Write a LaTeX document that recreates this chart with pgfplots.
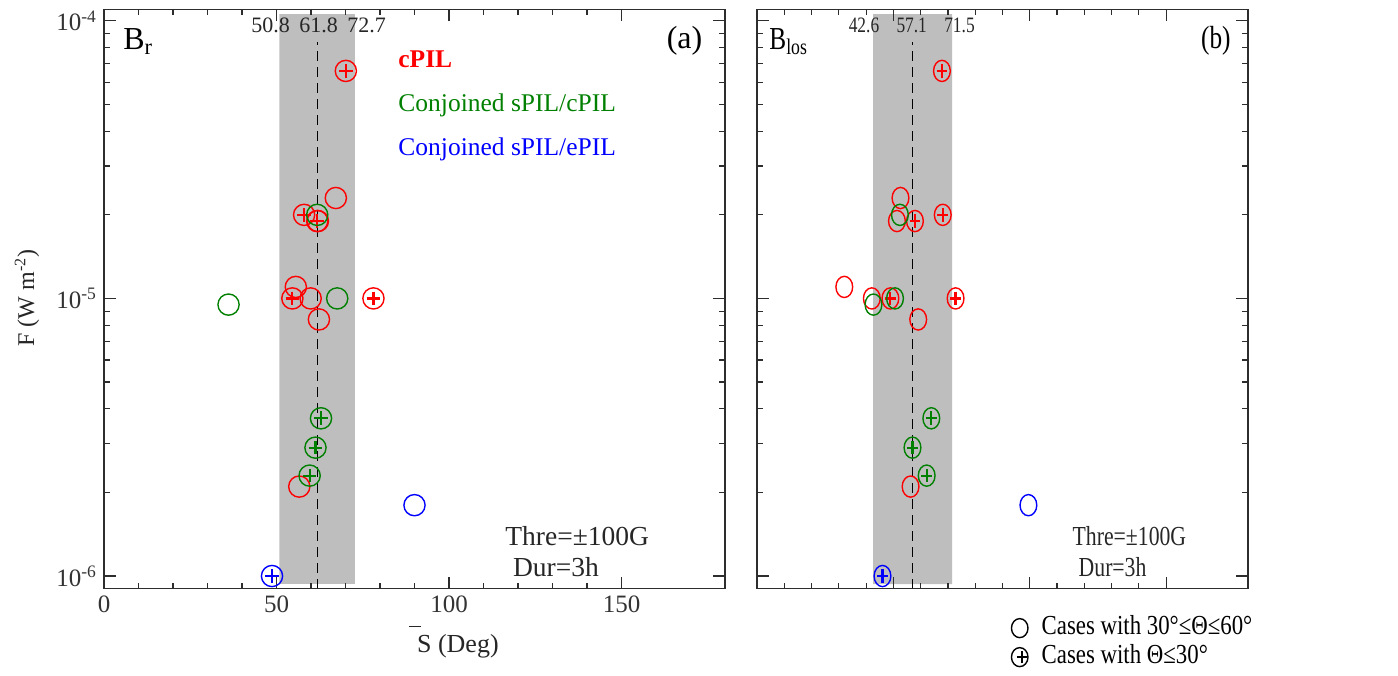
\documentclass[border=0pt]{standalone}
\usepackage{fontspec}
\setmainfont{Liberation Serif}
\usepackage{graphicx}
\usepackage{pgfplots}
\pgfplotsset{compat=1.18}

\definecolor{bandgray}{RGB}{190,190,190}
\definecolor{pgreen}{RGB}{0,128,0}
\definecolor{pred}{RGB}{255,0,0}
\definecolor{pblue}{RGB}{0,0,255}
\definecolor{axgray}{RGB}{45,45,45}

\newcommand{\fs}{\fontsize{12.5}{15}\selectfont}
\newcommand{\fsl}{\fontsize{12.75}{15}\selectfont}
\newcommand{\fst}{\fontsize{13.75}{16}\selectfont}
\newcommand{\fsx}{\fontsize{13}{16}\selectfont}
\newcommand{\fsy}{\fontsize{12}{14}\selectfont}
\newcommand{\fsb}{\fontsize{16}{19}\selectfont}
\newcommand{\fss}{\fontsize{11}{13}\selectfont}

\pgfplotsset{
  chartpanel/.style={
    scale only axis, height=289.7pt,
    xmin=0, xmax=180, ymin=9.0e-7, ymax=1.1e-4,
    xtick={0,50,100,150}, minor x tick num=4,
    ytick={1e-6,1e-5,1e-4},
    tick align=inside, major tick length=6pt, minor tick length=3pt,
    axis line style={axgray, line width=0.6pt},
    every tick/.append style={axgray, line width=0.6pt},
    ticklabel style={font=\fs, text=black!80},
    /pgf/number format/assume math mode=true,
    axis on top,
  },
  ring/.style={only marks, mark=o, mark size=5.3pt, line width=0.7pt},
  cross/.style={only marks, mark=+, mark size=3.4pt, line width=1.1pt, forget plot},
}

\begin{document}
\begin{tikzpicture}
\useasboundingbox (0pt,0pt) rectangle (699pt,-337.5pt);

% ---------------- left panel (a) ----------------
\begin{semilogyaxis}[chartpanel, at={(52pt,-294.35pt)}, anchor=south west, width=310.5pt,
  yticklabels={10\textsuperscript{-6},10\textsuperscript{-5},10\textsuperscript{-4}}]
\addplot[draw=none, fill=bandgray] coordinates {(50.8,9.36e-7) (72.7,9.36e-7) (72.7,1.057e-4) (50.8,1.057e-4) (50.8,9.36e-7)};
\addplot[black, line width=0.6pt, dash pattern=on 5pt off 3pt] coordinates {(61.8,9.0e-7) (61.8,8.4e-5)};
% cPIL: 30-60 deg (circles) and <=30 deg (circle with plus)
\addplot[ring, pred] coordinates {(67.2,2.3e-5) (62.0,1.9e-5) (55.6,1.1e-5) (59.9,1.0e-5) (62.3,8.4e-6) (56.6,2.1e-6)};
\addplot[ring, pred] coordinates {(70.1,6.6e-5) (58.0,2.0e-5) (61.8,1.9e-5) (54.6,1.0e-5) (78.1,1.0e-5)};
\addplot[cross, pred] coordinates {(70.1,6.6e-5) (58.0,2.0e-5) (61.8,1.9e-5) (54.6,1.0e-5) (78.1,1.0e-5)};
% Conjoined sPIL/cPIL
\addplot[ring, pgreen] coordinates {(61.8,2.0e-5) (67.6,1.0e-5) (36.1,9.5e-6)};
\addplot[ring, pgreen] coordinates {(62.9,3.7e-6) (61.3,2.9e-6) (59.6,2.3e-6)};
\addplot[cross, pgreen] coordinates {(62.9,3.7e-6) (61.3,2.9e-6) (59.6,2.3e-6)};
% Conjoined sPIL/ePIL
\addplot[ring, pblue] coordinates {(90.0,1.8e-6)};
\addplot[ring, pblue] coordinates {(48.7,1.0e-6)};
\addplot[cross, pblue] coordinates {(48.7,1.0e-6)};
\end{semilogyaxis}

% ---------------- right panel (b) ----------------
\begin{semilogyaxis}[chartpanel, at={(378.5pt,-294.35pt)}, anchor=south west, width=245.5pt,
  xticklabels={}, yticklabels={},
  legend style={at={(axis description cs:0.516,-0.044)}, anchor=north west,
    draw=none, fill=none, inner sep=0pt, row sep=1pt, font=\fst,
    /tikz/every odd column/.append style={column sep=5.5pt},
    nodes={inner sep=1pt, text height=9pt, text depth=2.5pt}},
  legend cell align=left]
\addplot[draw=none, fill=bandgray, forget plot] coordinates {(42.6,9.36e-7) (71.5,9.36e-7) (71.5,1.057e-4) (42.6,1.057e-4) (42.6,9.36e-7)};
\addplot[black, line width=0.6pt, dash pattern=on 5pt off 3pt, forget plot] coordinates {(57.1,9.0e-7) (57.1,8.4e-5)};
\addplot[ring, pred, mark options={xscale=0.79}, forget plot] coordinates {(52.6,2.3e-5) (51.3,1.9e-5) (32.0,1.1e-5) (42.1,1.0e-5) (59.1,8.4e-6) (56.3,2.1e-6)};
\addplot[ring, pred, mark options={xscale=0.79}, forget plot] coordinates {(67.8,6.6e-5) (57.9,1.9e-5) (68.1,2.0e-5) (48.9,1.0e-5) (72.8,1.0e-5)};
\addplot[cross, pred, mark options={xscale=0.79}] coordinates {(67.8,6.6e-5) (57.9,1.9e-5) (68.1,2.0e-5) (48.9,1.0e-5) (72.8,1.0e-5)};
\addplot[ring, pgreen, mark options={xscale=0.79}, forget plot] coordinates {(52.4,2.0e-5) (42.7,9.5e-6) (50.6,1.0e-5)};
\addplot[ring, pgreen, mark options={xscale=0.79}, forget plot] coordinates {(63.9,3.7e-6) (57.0,2.9e-6) (62.2,2.3e-6)};
\addplot[cross, pgreen, mark options={xscale=0.79}] coordinates {(63.9,3.7e-6) (57.0,2.9e-6) (62.2,2.3e-6)};
\addplot[ring, pblue, mark options={xscale=0.79}, forget plot] coordinates {(99.5,1.8e-6)};
\addplot[ring, pblue, mark options={xscale=0.79}, forget plot] coordinates {(46.0,1.0e-6)};
\addplot[cross, pblue, mark options={xscale=0.79}] coordinates {(46.0,1.0e-6)};
\addlegendimage{legend image code/.code={
  \draw[black, line width=0.7pt, xscale=0.87] (0.3cm,0cm) circle[radius=4.75pt];}}
\addlegendentry{\scalebox{0.83}[1]{Cases with 30°≤Θ≤60°}}
\addlegendimage{legend image code/.code={
  \draw[black, line width=0.7pt, xscale=0.87] (0.3cm,0cm) circle[radius=4.75pt];
  \draw[black, line width=1.0pt] (0.3cm-2.6pt,0cm) -- (0.3cm+2.6pt,0cm) (0.3cm,-3.1pt) -- (0.3cm,3.1pt);}}
\addlegendentry{\scalebox{0.83}[1]{Cases with Θ≤30°}}
\end{semilogyaxis}

% ---------------- texts ----------------
\node[anchor=base west, inner sep=0pt, font=\fsb] at (61.5pt,-24.65pt) {B\textsubscript{r}};
\node[anchor=base east, inner sep=0pt, font=\fsb] at (351.35pt,-24.25pt) {(a)};
\node[anchor=base west, inner sep=0pt, font=\fsb] at (384.5pt,-24.65pt) {\scalebox{0.79}[1]{B\textsubscript{los}}};
\node[anchor=base east, inner sep=0pt, font=\fsb] at (615.5pt,-24.25pt) {\scalebox{0.79}[1]{(b)}};

\node[anchor=base, inner sep=0pt, font=\fss, text=black!85] at (135.25pt,-16.2pt) {50.8};
\node[anchor=base, inner sep=0pt, font=\fss, text=black!85] at (159.25pt,-16.2pt) {61.8};
\node[anchor=base, inner sep=0pt, font=\fss, text=black!85] at (183.25pt,-16.2pt) {72.7};
\node[anchor=base, inner sep=0pt, font=\fss, text=black!85] at (432pt,-16.2pt) {\scalebox{0.79}[1]{42.6}};
\node[anchor=base, inner sep=0pt, font=\fss, text=black!85] at (455.85pt,-16.2pt) {\scalebox{0.79}[1]{57.1}};
\node[anchor=base, inner sep=0pt, font=\fss, text=black!85] at (479.75pt,-16.2pt) {\scalebox{0.79}[1]{71.5}};

\node[anchor=base west, inner sep=0pt, font=\fsl, text=pred] at (199pt,-33.5pt) {\textbf{cPIL}};
\node[anchor=base west, inner sep=0pt, font=\fsl, text=pgreen] at (199pt,-55.85pt) {Conjoined sPIL/cPIL};
\node[anchor=base west, inner sep=0pt, font=\fsl, text=pblue] at (199pt,-77.5pt) {Conjoined sPIL/ePIL};

\node[anchor=base west, inner sep=0pt, font=\fst, text=black!85] at (252.5pt,-272.5pt) {Thre=±100G};
\node[anchor=base west, inner sep=0pt, font=\fst, text=black!85] at (256.35pt,-288.3pt) {Dur=3h};
\node[anchor=base west, inner sep=0pt, font=\fst, text=black!85] at (536.15pt,-272.5pt) {\scalebox{0.79}[1]{Thre=±100G}};
\node[anchor=base west, inner sep=0pt, font=\fst, text=black!85] at (539.15pt,-288.3pt) {\scalebox{0.79}[1]{Dur=3h}};

\node[anchor=base west, inner sep=0pt, font=\fsx, text=black!85] at (208.35pt,-326.35pt)
  {\rlap{\kern-0.3em\raisebox{1.0em}{\rule{0.45em}{0.5pt}}}S (Deg)};
\node[rotate=90, anchor=center, inner sep=0pt, font=\fsy, text=black!85] at (13.5pt,-149pt)
  {F (W m\textsuperscript{-2})};
\end{tikzpicture}
\end{document}
